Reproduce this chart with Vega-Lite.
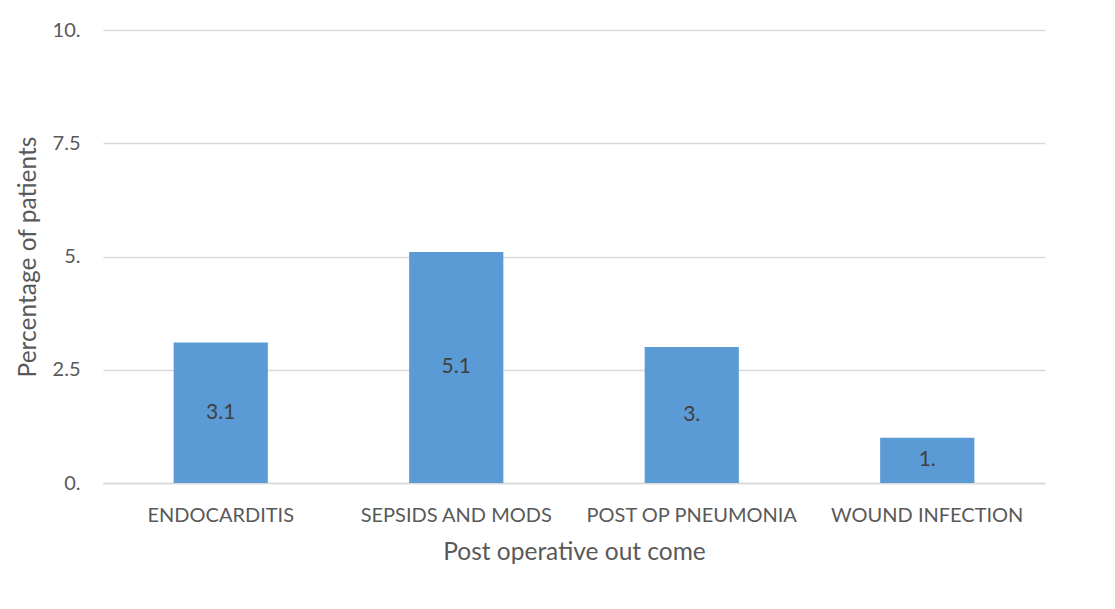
{
  "$schema": "https://vega.github.io/schema/vega-lite/v6.json",
  "autosize": "none",
  "width": 942,
  "height": 453,
  "padding": {"left": 103, "top": 30, "right": 70, "bottom": 126},
  "background": "white",
  "config": {
    "view": {"stroke": null},
    "font": "Lato",
    "axis": {
      "labelFont": "Lato",
      "titleFont": "Lato",
      "labelColor": "#595959",
      "titleColor": "#595959",
      "labelFontSize": 20,
      "titleFontSize": 24.5,
      "labelFontWeight": "normal",
      "titleFontWeight": "normal",
      "labelLimit": 0,
      "ticks": false,
      "tickSize": 0
    }
  },
  "data": {
    "values": [
      {"outcome": "ENDOCARDITIS", "percent": 3.1},
      {"outcome": "SEPSIDS AND MODS", "percent": 5.1},
      {"outcome": "POST OP PNEUMONIA", "percent": 3.0},
      {"outcome": "WOUND INFECTION", "percent": 1.0}
    ]
  },
  "transform": [
    {"calculate": "datum.percent % 1 == 0 ? datum.percent + '.' : '' + datum.percent", "as": "label"},
    {"calculate": "datum.percent / 2", "as": "mid"}
  ],
  "encoding": {
    "x": {
      "field": "outcome",
      "type": "nominal",
      "sort": null,
      "scale": {"paddingInner": 0.6, "paddingOuter": 0.3},
      "axis": {
        "title": "Post operative out come",
        "labelAngle": 0,
        "labelBaseline": "middle",
        "labelPadding": 32,
        "titleBaseline": "middle",
        "titleY": 69,
        "domain": true,
        "domainColor": "#D9D9D9",
        "domainWidth": 1.5,
        "grid": false
      }
    }
  },
  "layer": [
    {
      "mark": {"type": "bar", "color": "#5B9BD5"},
      "encoding": {
        "y": {
          "field": "percent",
          "type": "quantitative",
          "scale": {"domain": [0, 10], "nice": false},
          "axis": {
            "title": "Percentage of patients",
            "values": [0, 2.5, 5, 7.5, 10],
            "labelExpr": "datum.value % 1 == 0 ? datum.value + '.' : '' + datum.value",
            "labelBaseline": "middle",
            "labelPadding": 23,
            "domain": false,
            "grid": true,
            "gridColor": "#D9D9D9",
            "gridWidth": 1.5,
            "titleX": -75,
            "titleBaseline": "middle"
          }
        }
      }
    },
    {
      "mark": {"type": "text", "font": "Lato", "fontSize": 21, "color": "#404040", "baseline": "middle", "align": "center"},
      "encoding": {
        "y": {"field": "mid", "type": "quantitative"},
        "text": {"field": "label", "type": "nominal"}
      }
    }
  ]
}
